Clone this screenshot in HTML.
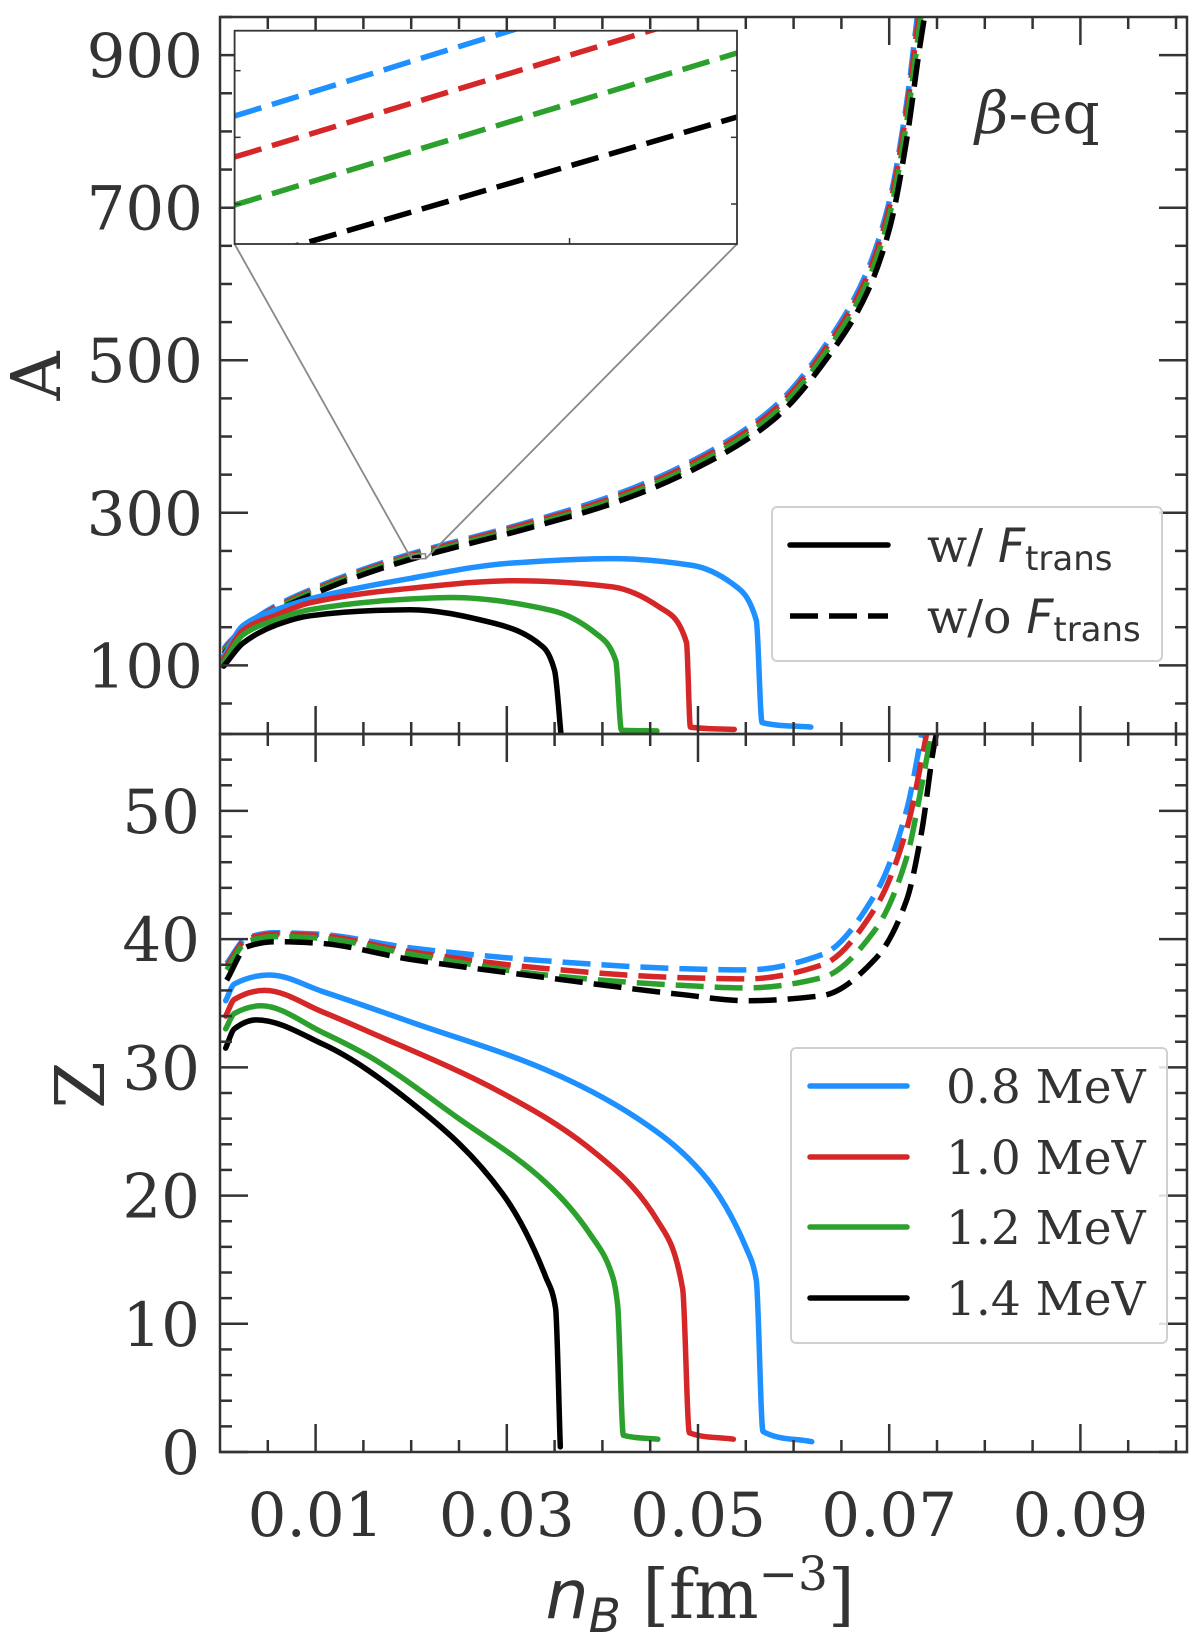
<!DOCTYPE html>
<html><head><meta charset="utf-8">
<style>
html,body{margin:0;padding:0;background:#fff;}
svg{display:block;}
text{font-family:"DejaVu Serif","Liberation Serif",serif;fill:#333;}
</style></head>
<body>
<svg id="fig" width="1200" height="1632" viewBox="0 0 1200 1632" xmlns="http://www.w3.org/2000/svg">
<defs>
<clipPath id="clipTop"><rect x="220" y="17" width="967" height="717"/></clipPath>
<clipPath id="clipBot"><rect x="220" y="734" width="967" height="718"/></clipPath>
<clipPath id="clipIn"><rect x="234.6" y="30.7" width="502.4" height="213.3"/></clipPath>
</defs>
<g id="gTop"></g>
<g id="gBot"></g>
<g id="gInset"></g>
<g id="gAnn"></g>
</svg>
<script>
// ---------------- data ----------------
const seriesNames = ['0.8 MeV','1.0 MeV','1.2 MeV','1.4 MeV'];
const colors = ['#1e90ff','#d62728','#2ca02c','#000000'];

// Top panel: A, solid (with F_trans)
const aSolidX = [
  [0.0004,0.0024,0.0059,0.0094,0.0199,0.0304,0.041,0.0494,0.0536,0.0561,0.0567,0.0618],
  [0.0004,0.0024,0.0059,0.0094,0.0199,0.0309,0.041,0.046,0.0488,0.0492,0.0538],
  [0.0004,0.0024,0.0059,0.0094,0.0199,0.0242,0.0347,0.0393,0.0414,0.042,0.0457],
  [0.0004,0.0024,0.0059,0.0094,0.0164,0.0199,0.0284,0.0338,0.035,0.0357]
];
const aSolidY = [
  [112,152,173,187,214,234,240,231,207,159,25,19],
  [108,146,166,182,201,211,203,176,130,19,16],
  [104,140,160,173,187,189,172,142,106,15,14],
  [99,129,153,165,172,173,156,124,93,5]
];
// Top panel: A, dashed (without F_trans)
const aDashX = [0.0004,0.001,0.0042,0.0112,0.0181,0.0326,0.041,0.0494,0.0578,0.0642,0.0677,0.0701,0.0718,0.0732,0.0737];
const aDashY = [
  [122,131,166,208,239,289,322,368,437,536,617,713,835,975,1015],
  [120,129,164,206,237,287,319,365,433,531,610,705,825,960,1000],
  [118,127,162,204,235,284,316,361,428,525,602,694,810,940,985],
  [115,124,159,201,232,281,312,356,421,515,589,676,787,911,951]
];
// Inset (x range 0.020-0.0215): line values at left and right edges
const insetX = [0.020, 0.0215];
const insetY = [
  [243.64,248.3],
  [242.41,246.99],
  [240.97,245.53],
  [239.21,243.61]
];
// Bottom panel: Z, solid
const zSolidX = [
  [0.0006,0.0015,0.0052,0.0108,0.0201,0.0341,0.0435,0.0505,0.0551,0.0561,0.0568,0.0619],
  [0.0006,0.0015,0.0047,0.0108,0.0155,0.0295,0.0388,0.0458,0.0484,0.0491,0.0537],
  [0.0006,0.0015,0.0043,0.0108,0.0155,0.0248,0.0341,0.0388,0.0411,0.0416,0.0422,0.0458],
  [0.0006,0.0015,0.0038,0.0108,0.0201,0.0295,0.0341,0.0351,0.0356]
];
const zSolidY = [
  [35.2,36.5,37.2,35.9,33.5,29.8,26.1,21.7,15.8,13.4,1.6,0.8],
  [34,35.3,36,34.3,32.8,28,23.6,18,12.7,1.5,1.0],
  [33,34.2,34.8,32.7,30.9,26.1,21,16.9,13.6,11.4,1.3,1.0],
  [31.5,33.0,33.7,31.8,27.2,20.2,13.6,11.2,0.4]
];
// Bottom panel: Z, dashed
const zDashX = [0.0007,0.0028,0.0057,0.01,0.0201,0.0341,0.0481,0.0551,0.063,0.0686,0.0718,0.0734,0.0746,0.0752];
const zDashY = [
  [38.1,40.1,40.5,40.4,39.3,38.3,37.7,37.6,38.8,43.6,50,56,61,64],
  [37.9,40.0,40.4,40.3,39.0,37.7,37.0,36.9,38.0,42.5,48.5,54,59,62],
  [37.6,39.8,40.2,40.1,38.8,37.2,36.4,36.2,37.0,40.8,46.3,52,57,60],
  [36.8,39.4,39.8,39.7,38.4,37.0,35.7,35.2,35.6,38.5,43,48.4,54.7,57]
];
const xTickLabels = ['0.01','0.03','0.05','0.07','0.09'];
const xTickVals = [0.01,0.03,0.05,0.07,0.09];
const aTickVals = [100,300,500,700,900];
const zTickVals = [0,10,20,30,40,50];

// ---------------- axes ----------------
const X0=220, X1=1187, XMAX=(X1-X0)/9560;
const sx = x => X0 + x*9560;
const TOP0=17, TOP1=734, AMIN=10, AMAX=950;
const syA = a => TOP0 + (AMAX-a)*(TOP1-TOP0)/(AMAX-AMIN);
const BOT0=734, BOT1=1452, ZMIN=0, ZMAX=56;
const syZ = z => BOT0 + (ZMAX-z)*(BOT1-BOT0)/(ZMAX-ZMIN);
const IX0=234.6, IX1=737, IY0=30.7, IY1=244, IAMIN=239.8, IAMAX=246.2;
const sxI = x => IX0 + (x-insetX[0])/(insetX[1]-insetX[0])*(IX1-IX0);
const syI = a => IY1 - (a-IAMIN)/(IAMAX-IAMIN)*(IY1-IY0);

const NS='http://www.w3.org/2000/svg';
function mk(tag, attrs, parent){const e=document.createElementNS(NS,tag);for(const k in attrs)e.setAttribute(k,attrs[k]);parent.appendChild(e);return e;}
const gTop=document.getElementById('gTop'), gBot=document.getElementById('gBot'), gIn=document.getElementById('gInset'), gAnn=document.getElementById('gAnn');
const AX='#333';
const LW=5.5, DASH='28 11';

// monotone cubic (Fritsch-Carlson) path through points, in pixel space
function smoothPath(xs, ys, fx, fy){
  const P=xs.map((x,i)=>[fx(x),fy(ys[i])]);
  const n=P.length;
  if(n<3) return 'M'+P.map(p=>p[0].toFixed(1)+','+p[1].toFixed(1)).join(' L');
  const h=[],d=[];
  for(let i=0;i<n-1;i++){h[i]=P[i+1][0]-P[i][0];d[i]=(P[i+1][1]-P[i][1])/h[i];}
  const m=new Array(n);
  m[0]=d[0];m[n-1]=d[n-2];
  for(let i=1;i<n-1;i++){
    if(d[i-1]*d[i]<=0) m[i]=0;
    else { const w1=2*h[i]+h[i-1], w2=h[i]+2*h[i-1]; m[i]=(w1+w2)/(w1/d[i-1]+w2/d[i]); }
  }
  let s='M'+P[0][0].toFixed(1)+','+P[0][1].toFixed(1);
  for(let i=0;i<n-1;i++){
    const c1x=P[i][0]+h[i]/3, c1y=P[i][1]+m[i]*h[i]/3;
    const c2x=P[i+1][0]-h[i]/3, c2y=P[i+1][1]-m[i+1]*h[i]/3;
    s+=' C'+c1x.toFixed(1)+','+c1y.toFixed(1)+' '+c2x.toFixed(1)+','+c2y.toFixed(1)+' '+P[i+1][0].toFixed(1)+','+P[i+1][1].toFixed(1);
  }
  return s;
}

function drawTicksX(parent, yEdge, dir){
  for(let v=0.005; v<XMAX; v+=0.005){
    const major = Math.abs(((v*1000)%20)-10)<0.01;
    const len = major?28:12;
    const X=sx(v);
    const t=mk('line',{x1:X,y1:yEdge,x2:X,y2:yEdge+dir*len,stroke:AX,'stroke-width':2.5},parent);
    
    
  }
}
function drawTicksY(parent, vmin, vmax, step, majorStep, majorOff, fy){
  for(let v=Math.ceil(vmin/step)*step; v<=vmax; v+=step){
    const major = Math.abs(((v-majorOff)%majorStep))<1e-6;
    const len = major?28:12;
    const Y=fy(v);
    const a=mk('line',{x1:X0,y1:Y,x2:X0+len,y2:Y,stroke:AX,'stroke-width':2.5},parent);
    
    
    const b=mk('line',{x1:X1,y1:Y,x2:X1-len,y2:Y,stroke:AX,'stroke-width':2.5},parent);
    
    
  }
}

// ----- top panel -----
const topData=mk('g',{'clip-path':'url(#clipTop)'},gTop);


for(let i=0;i<4;i++){
  const p=mk('path',{d:smoothPath(aDashX,aDashY[i],sx,syA),fill:'none',stroke:colors[i],'stroke-width':LW,'stroke-dasharray':DASH},topData);
  
  
}
for(let i=0;i<4;i++){
  const p=mk('path',{d:smoothPath(aSolidX[i],aSolidY[i],sx,syA),fill:'none',stroke:colors[i],'stroke-width':LW,'stroke-linejoin':'round','stroke-linecap':'round'},topData);
  
  
}
drawTicksX(gTop, TOP0, 1);
drawTicksX(gTop, TOP1, -1);
drawTicksY(gTop, AMIN, AMAX, 50, 200, 100, syA);
const fTop=mk('rect',{x:X0,y:TOP0,width:X1-X0,height:TOP1-TOP0,fill:'none',stroke:AX,'stroke-width':2.5},gTop);


aTickVals.forEach(v=>{
  const t=mk('text',{x:203,y:syA(v)+22,'text-anchor':'end','font-size':61},gTop);
  t.textContent=v;
  
  
});
const aLab=mk('text',{x:0,y:0,transform:'translate(60,376) rotate(-90)','text-anchor':'middle','font-size':68},gTop);
aLab.textContent='A';



// ----- bottom panel -----
const botData=mk('g',{'clip-path':'url(#clipBot)'},gBot);


for(let i=0;i<4;i++){
  const p=mk('path',{d:smoothPath(zDashX,zDashY[i],sx,syZ),fill:'none',stroke:colors[i],'stroke-width':LW,'stroke-dasharray':DASH},botData);
  
  
}
for(let i=0;i<4;i++){
  const p=mk('path',{d:smoothPath(zSolidX[i],zSolidY[i],sx,syZ),fill:'none',stroke:colors[i],'stroke-width':LW,'stroke-linejoin':'round','stroke-linecap':'round'},botData);
  
  
}
drawTicksX(gBot, BOT0, 1);
drawTicksX(gBot, BOT1, -1);
drawTicksY(gBot, ZMIN, ZMAX, 2, 10, 0, syZ);
const fBot=mk('rect',{x:X0,y:BOT0,width:X1-X0,height:BOT1-BOT0,fill:'none',stroke:AX,'stroke-width':2.5},gBot);


zTickVals.forEach(v=>{
  const t=mk('text',{x:200,y:syZ(v)+22,'text-anchor':'end','font-size':61},gBot);
  t.textContent=v;
  
  
});
xTickVals.forEach((v,i)=>{
  const t=mk('text',{x:sx(v),y:1536,'text-anchor':'middle','font-size':61},gBot);
  t.textContent=xTickLabels[i];
  
  
});
const zLab=mk('text',{x:0,y:0,transform:'translate(104,1085) rotate(-90)','text-anchor':'middle','font-size':68},gBot);
zLab.textContent='Z';


const xLab=mk('text',{x:700,y:1618,'text-anchor':'middle','font-size':68},gBot);
xLab.innerHTML='<tspan font-style="italic" font-family="DejaVu Sans, sans-serif">n</tspan><tspan font-style="italic" font-family="DejaVu Sans, sans-serif" font-size="47" dy="14">B</tspan><tspan dy="-14"> [fm</tspan><tspan font-size="47" dy="-28">−3</tspan><tspan dy="28">]</tspan>';



// ----- inset -----
const rx0=sx(insetX[0]), rx1=sx(insetX[1]), ry0=syA(IAMAX), ry1=syA(IAMIN);
const zr=mk('rect',{x:rx0,y:ry0,width:rx1-rx0,height:ry1-ry0,fill:'none',stroke:'#888','stroke-width':1.5},gIn);


const c1=mk('line',{x1:IX0,y1:IY1,x2:rx0,y2:ry1,stroke:'#888','stroke-width':1.8},gIn);


const c2=mk('line',{x1:IX1,y1:IY1,x2:rx1,y2:ry1,stroke:'#888','stroke-width':1.8},gIn);


const ibg=mk('rect',{x:IX0,y:IY0,width:IX1-IX0,height:IY1-IY0,fill:'#fff'},gIn);


const inData=mk('g',{'clip-path':'url(#clipIn)'},gIn);


for(let i=0;i<4;i++){
  const l=mk('line',{x1:sxI(insetX[0]),y1:syI(insetY[i][0]),x2:sxI(insetX[1]),y2:syI(insetY[i][1]),stroke:colors[i],'stroke-width':LW,'stroke-dasharray':DASH},inData);
  
  
}
[241,243,245].forEach(v=>{
  const a=mk('line',{x1:IX0,y1:syI(v),x2:IX0+6,y2:syI(v),stroke:AX,'stroke-width':1.5},gIn);
  
  
  const b=mk('line',{x1:IX1,y1:syI(v),x2:IX1-6,y2:syI(v),stroke:AX,'stroke-width':1.5},gIn);
  
  
});
const itx=mk('line',{x1:sxI(0.021),y1:IY1,x2:sxI(0.021),y2:IY1-6,stroke:AX,'stroke-width':1.5},gIn);


const ifr=mk('rect',{x:IX0,y:IY0,width:IX1-IX0,height:IY1-IY0,fill:'none',stroke:AX,'stroke-width':1.8},gIn);



// ----- annotations & legends -----
const beq=mk('text',{x:975,y:133,'font-size':58,'font-family':'DejaVu Sans, sans-serif'},gAnn);
beq.innerHTML='<tspan font-style="italic">β</tspan>-eq';



const lg1=mk('g',{},gAnn);


mk('rect',{x:772,y:507,width:390,height:154,rx:5,fill:'#fff','fill-opacity':0.85,stroke:'#d0d0d0','stroke-width':2},lg1);
const ls1=mk('line',{x1:790,y1:545,x2:888,y2:545,stroke:'#000','stroke-width':LW,'stroke-linecap':'round'},lg1);


const ls2=mk('line',{x1:790,y1:616,x2:888,y2:616,stroke:'#000','stroke-width':LW,'stroke-dasharray':DASH},lg1);


const lt1=mk('text',{x:927,y:562,'font-size':47},lg1);
lt1.innerHTML='w/ <tspan font-family="DejaVu Sans, sans-serif" font-style="italic">F</tspan><tspan font-family="DejaVu Sans, sans-serif" font-size="34" dy="8">trans</tspan>';


const lt2=mk('text',{x:927,y:633,'font-size':47},lg1);
lt2.innerHTML='w/o <tspan font-family="DejaVu Sans, sans-serif" font-style="italic">F</tspan><tspan font-family="DejaVu Sans, sans-serif" font-size="34" dy="8">trans</tspan>';



const lg2=mk('g',{},gAnn);


mk('rect',{x:791,y:1048,width:376,height:295,rx:5,fill:'#fff','fill-opacity':0.85,stroke:'#d0d0d0','stroke-width':2},lg2);
const legY=[1086,1157,1227,1298];
for(let i=0;i<4;i++){
  const l=mk('line',{x1:810,y1:legY[i],x2:907,y2:legY[i],stroke:colors[i],'stroke-width':LW,'stroke-linecap':'round'},lg2);
  
  
  const t=mk('text',{x:946,y:legY[i]+17,'font-size':47},lg2);
  t.textContent=seriesNames[i];
  
  
}
</script>
</body></html>
